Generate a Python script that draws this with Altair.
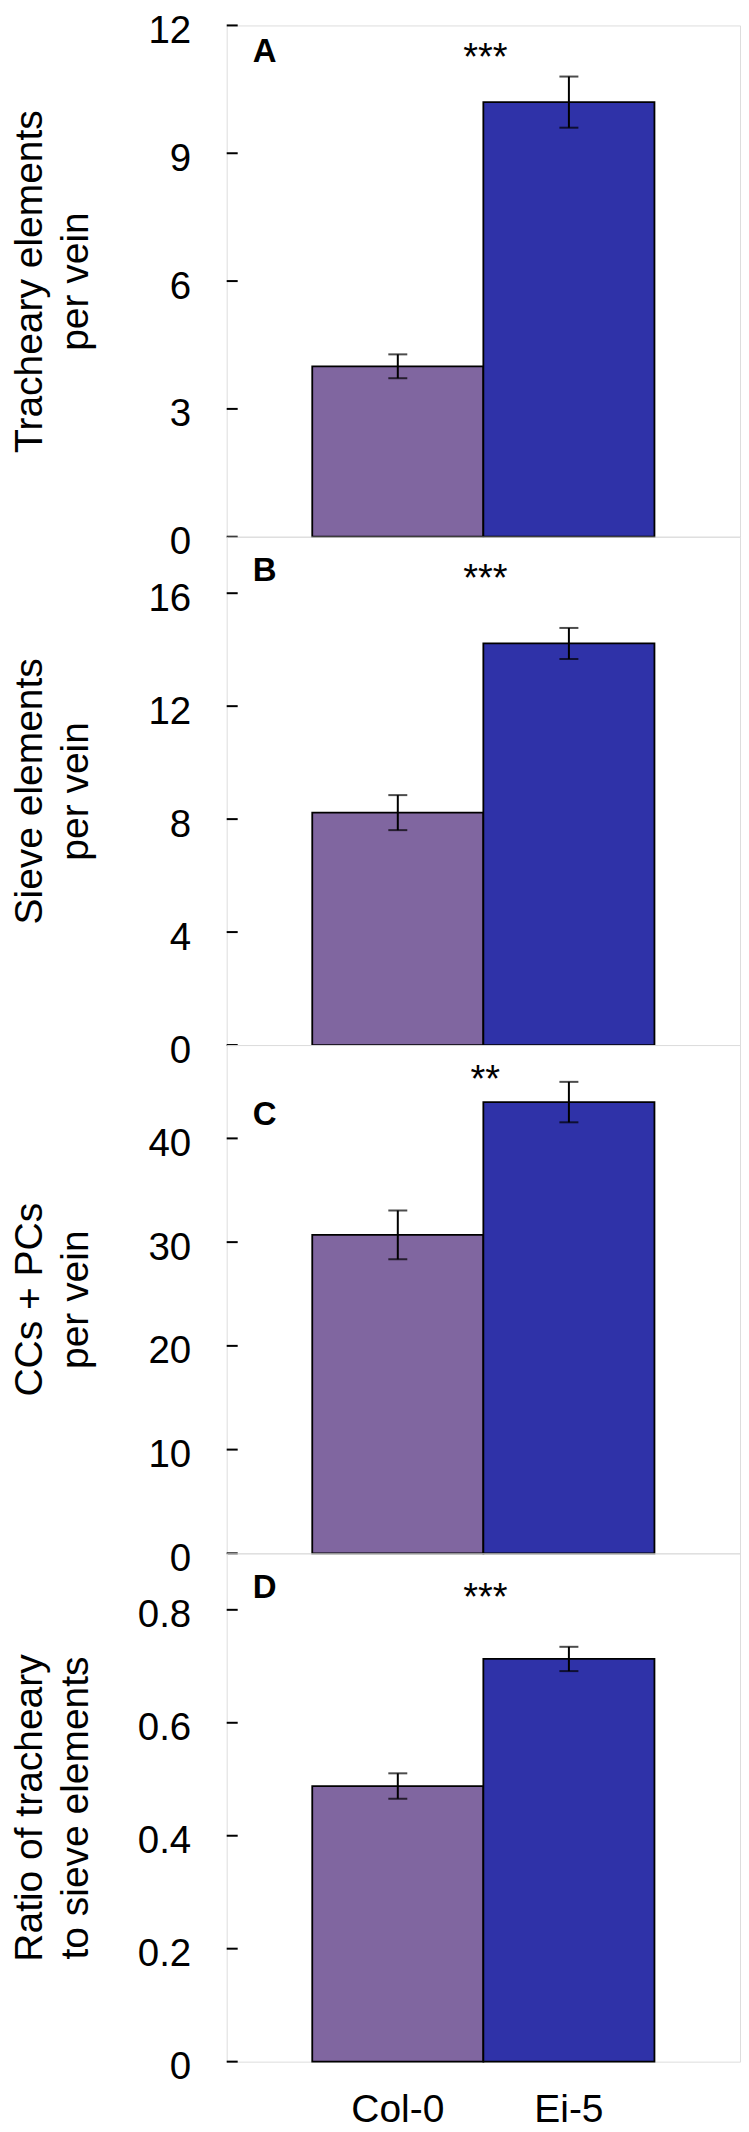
import altair as alt
import pandas as pd

FONT = "Liberation Sans"

genotypes = ["Col-0", "Ei-5"]
colors = ["#8066A0", "#2F32A8"]

panel_letters = ["A", "B", "C", "D"]
y_titles = [
    ["Tracheary elements", "per vein"],
    ["Sieve elements", "per vein"],
    ["CCs + PCs", "per vein"],
    ["Ratio of tracheary", "to sieve elements"],
]
means_A = [4.0, 10.2]
errs_A = [0.28, 0.60]
means_B = [8.23, 14.22]
errs_B = [0.62, 0.55]
means_C = [30.7, 43.5]
errs_C = [2.35, 1.95]
means_D = [0.488, 0.713]
errs_D = [0.0225, 0.0215]
means = [means_A, means_B, means_C, means_D]
errors = [errs_A, errs_B, errs_C, errs_D]

y_max = [12, 18, 49, 0.9]
y_ticks = [[0, 3, 6, 9, 12], [0, 4, 8, 12, 16], [0, 10, 20, 30, 40], [0, 0.2, 0.4, 0.6, 0.8]]
y_formats = ["d", "d", "d", ".1f"]
stars = ["***", "***", "**", "***"]
star_y = [10.95, 16.08, 44.45, 0.80]
letter_y = [11.14, 16.42, 41.28, 0.821]
heights = [512, 509, 509, 509]
WIDTH = 514


def panel(i):
    df = pd.DataFrame({"genotype": genotypes, "mean": means[i], "err": errors[i]})
    df["lo"] = df["mean"] - df["err"]
    df["hi"] = df["mean"] + df["err"]
    last = i == 3
    if last:
        xaxis = alt.Axis(title=None, labelAngle=0, labelFontSize=39, labelPadding=29,
                         ticks=False, domain=False, labelColor="black", labelFont=FONT)
    else:
        xaxis = None
    xscale = alt.Scale(domain=genotypes, paddingInner=0, paddingOuter=0.5)
    x = alt.X("genotype:N", sort=genotypes, scale=xscale, axis=xaxis)
    yscale = alt.Scale(domain=[0, y_max[i]], nice=False, zero=True)
    yaxis = alt.Axis(
        title=y_titles[i], values=y_ticks[i], format=y_formats[i],
        labelExpr="datum.value == 0 ? '0' : datum.label",
        ticks=False, domain=False, grid=False,
        labelFontSize=38.5, labelPadding=36, labelOffset=5, labelColor="black", labelFont=FONT,
        titleFontSize=39, titleFontWeight="normal", titleLineHeight=46, titleFont=FONT,
        titleX=-216, titleY=heights[i] / 2, titleAngle=270, titleAlign="center",
        titleBaseline="top", titleColor="black",
    )

    bars = alt.Chart(df).mark_bar(stroke="black", strokeWidth=1.8).encode(
        x=x,
        y=alt.Y("mean:Q", scale=yscale, axis=yaxis),
        color=alt.Color("genotype:N", scale=alt.Scale(domain=genotypes, range=colors), legend=None),
    )
    rule = alt.Chart(df).mark_rule(color="black", strokeWidth=2).encode(
        x=x, y=alt.Y("lo:Q", scale=yscale, axis=yaxis), y2="hi:Q"
    )
    cap_lo = alt.Chart(df).mark_tick(color="black", size=19, thickness=2).encode(
        x=x, y=alt.Y("lo:Q", scale=yscale, axis=yaxis)
    )
    cap_hi = alt.Chart(df).mark_tick(color="black", size=19, thickness=2).encode(
        x=x, y=alt.Y("hi:Q", scale=yscale, axis=yaxis)
    )
    df_t = pd.DataFrame({"v": y_ticks[i]})
    inner_ticks = alt.Chart(df_t).mark_rule(color="black", strokeWidth=2).encode(
        y=alt.Y("v:Q", scale=yscale, axis=yaxis), x=alt.value(0), x2=alt.value(11)
    )
    df_l = pd.DataFrame({"label": [panel_letters[i]], "y": [letter_y[i]]})
    letter = alt.Chart(df_l).mark_text(
        align="left", baseline="alphabetic", fontSize=33, fontWeight="bold", font=FONT, color="black"
    ).encode(x=alt.value(26), y=alt.Y("y:Q", scale=yscale, axis=yaxis), text="label:N")
    df_s = pd.DataFrame({"genotype": ["Ei-5"], "label": [stars[i]], "y": [star_y[i]]})
    star = alt.Chart(df_s).mark_text(
        align="center", baseline="alphabetic", fontSize=38, font=FONT, color="black", dx=2
    ).encode(
        x=alt.X("genotype:N", scale=xscale, axis=xaxis, bandPosition=0),
        y=alt.Y("y:Q", scale=yscale, axis=yaxis),
        text="label:N",
    )
    return alt.layer(bars, rule, cap_lo, cap_hi, inner_ticks, letter, star).properties(
        width=WIDTH, height=heights[i]
    )


chart = alt.vconcat(*[panel(i) for i in range(4)], spacing=0, bounds="flush").configure_view(
    stroke="black", strokeWidth=2
).configure(font=FONT).properties(
    padding={"top": 1, "left": 2, "right": 0, "bottom": 0}, background="white"
)

chart.save("out.html", embed_options={"renderer": "svg", "actions": False})
